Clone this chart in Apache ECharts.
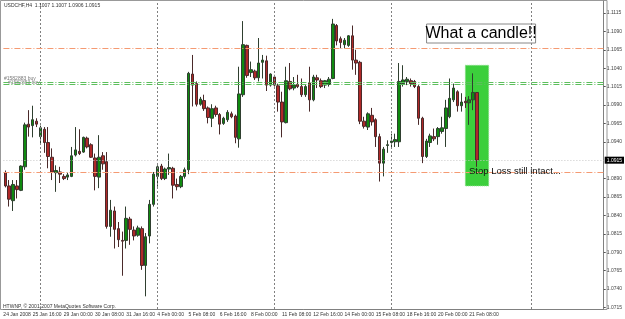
<!DOCTYPE html>
<html>

<head>
	<meta charset="utf-8">
	<title>USDCHF,H4</title>
	<script src="https://cdn.jsdelivr.net/npm/echarts@6/dist/echarts.min.js"></script>
</head>

<body style="margin:0;background:#fff">
	<div id="main" style="width:625px;height:319px;"></div>

	<script type="text/javascript">
		// H4 bars from 24 Jan 2008 12:00, [open, close, low, high]
		var candles = [
			[1.0898, 1.0880, 1.0878, 1.0901], [1.0880, 1.0862, 1.0852, 1.0888], [1.0860, 1.0882, 1.0846, 1.0888],
			[1.0880, 1.0875, 1.0863, 1.0888], [1.0874, 1.0907, 1.0873, 1.0908], [1.0906, 1.0963, 1.0902, 1.0966],
			[1.0964, 1.0960, 1.0947, 1.0983], [1.0962, 1.0970, 1.0946, 1.0989], [1.0968, 1.0964, 1.0960, 1.0972],
			[1.0947, 1.0959, 1.0937, 1.0962], [1.0957, 1.0939, 1.0925, 1.0960], [1.0939, 1.0920, 1.0904, 1.0960],
			[1.0919, 1.0899, 1.0888, 1.0931], [1.0898, 1.0901, 1.0872, 1.0908], [1.0899, 1.0896, 1.0884, 1.0906],
			[1.0893, 1.0890, 1.0888, 1.0896], [1.0892, 1.0895, 1.0888, 1.0898], [1.0893, 1.0921, 1.0892, 1.0933],
			[1.0922, 1.0929, 1.0920, 1.0960], [1.0927, 1.0924, 1.0922, 1.0957], [1.0926, 1.0946, 1.0925, 1.0947],
			[1.0945, 1.0933, 1.0931, 1.0947], [1.0936, 1.0919, 1.0918, 1.0938], [1.0918, 1.0893, 1.0874, 1.0924],
			[1.0892, 1.0919, 1.0877, 1.0949], [1.0921, 1.0910, 1.0902, 1.0926], [1.0913, 1.0825, 1.0822, 1.0926],
			[1.0825, 1.0847, 1.0811, 1.0861], [1.0846, 1.0821, 1.0795, 1.0852], [1.0822, 1.0807, 1.0797, 1.0831],
			[1.0806, 1.0805, 1.0758, 1.0818], [1.0806, 1.0836, 1.0795, 1.0852], [1.0835, 1.0821, 1.0800, 1.0838],
			[1.0820, 1.0812, 1.0806, 1.0825], [1.0813, 1.0823, 1.0811, 1.0826], [1.0822, 1.0772, 1.0766, 1.0825],
			[1.0772, 1.0811, 1.0730, 1.0816], [1.0812, 1.0855, 1.0802, 1.0861], [1.0855, 1.0896, 1.0852, 1.0899],
			[1.0893, 1.0906, 1.0879, 1.0908], [1.0907, 1.0890, 1.0888, 1.0910], [1.0890, 1.0903, 1.0888, 1.0905],
			[1.0903, 1.0905, 1.0895, 1.0924], [1.0904, 1.0881, 1.0863, 1.0906], [1.0882, 1.0879, 1.0874, 1.0890],
			[1.0879, 1.0893, 1.0877, 1.0895], [1.0893, 1.0902, 1.0890, 1.0905], [1.0902, 1.1033, 1.0896, 1.1035],
			[1.1032, 1.1017, 1.0988, 1.1058], [1.1019, 1.0991, 1.0988, 1.1022], [1.0991, 1.0998, 1.0989, 1.1001],
			[1.0996, 1.0985, 1.0982, 1.1004], [1.0986, 1.0973, 1.0965, 1.0988], [1.0972, 1.0985, 1.0960, 1.0991],
			[1.0986, 1.0977, 1.0974, 1.0989], [1.0977, 1.0964, 1.0950, 1.0979], [1.0965, 1.0972, 1.0963, 1.0974],
			[1.0970, 1.0980, 1.0967, 1.0983], [1.0978, 1.0974, 1.0972, 1.0981], [1.0975, 1.0946, 1.0938, 1.0977],
			[1.0944, 1.1005, 1.0932, 1.1042], [1.1004, 1.1072, 1.1001, 1.1104], [1.1071, 1.1030, 1.1027, 1.1072],
			[1.1034, 1.1038, 1.1028, 1.1049], [1.1036, 1.1027, 1.1024, 1.1038], [1.1027, 1.1047, 1.1022, 1.1081],
			[1.1048, 1.1051, 1.1026, 1.1058], [1.1050, 1.1017, 1.1009, 1.1057], [1.1017, 1.1032, 1.1015, 1.1033],
			[1.1028, 1.1017, 1.1015, 1.1031], [1.1016, 1.0994, 1.0981, 1.1019], [1.0994, 1.0967, 1.0946, 1.1008],
			[1.0966, 1.1023, 1.0965, 1.1042], [1.1022, 1.1012, 1.1010, 1.1047], [1.1013, 1.1017, 1.1010, 1.1028],
			[1.1018, 1.1015, 1.1013, 1.1031], [1.1015, 1.1004, 1.1001, 1.1026], [1.1004, 1.1015, 1.1001, 1.1017],
			[1.1020, 1.0997, 1.0981, 1.1042], [1.0997, 1.1028, 1.0995, 1.1031], [1.1027, 1.1024, 1.1013, 1.1031],
			[1.1023, 1.1015, 1.1013, 1.1026], [1.1017, 1.1023, 1.1013, 1.1024], [1.1018, 1.1025, 1.1015, 1.1028],
			[1.1026, 1.1100, 1.1025, 1.1107], [1.1098, 1.1077, 1.1071, 1.1100], [1.1080, 1.1075, 1.1067, 1.1083],
			[1.1072, 1.1078, 1.1067, 1.1081], [1.1071, 1.1084, 1.1069, 1.1085], [1.1084, 1.1051, 1.1038, 1.1098],
			[1.1051, 1.1047, 1.1031, 1.1065], [1.1048, 1.0968, 1.0964, 1.1050], [1.0968, 1.0961, 1.0958, 1.0974],
			[1.0960, 1.0978, 1.0956, 1.0980], [1.0976, 1.0967, 1.0962, 1.0986], [1.0970, 1.0947, 1.0933, 1.0972],
			[1.0947, 1.0911, 1.0886, 1.0951], [1.0911, 1.0930, 1.0893, 1.0933], [1.0935, 1.0936, 1.0925, 1.0942],
			[1.0939, 1.0941, 1.0932, 1.0951], [1.0940, 1.0943, 1.0933, 1.0951], [1.0940, 1.1022, 1.0933, 1.1047],
			[1.1019, 1.1024, 1.1015, 1.1044], [1.1022, 1.1025, 1.1017, 1.1028], [1.1023, 1.1019, 1.1015, 1.1026],
			[1.1022, 1.1015, 1.1013, 1.1024], [1.1015, 1.0972, 1.0963, 1.1017], [1.0972, 1.0920, 1.0911, 1.0974],
			[1.0920, 1.0941, 1.0918, 1.0944], [1.0939, 1.0948, 1.0933, 1.0951], [1.0947, 1.0944, 1.0941, 1.0958],
			[1.0947, 1.0958, 1.0936, 1.0960], [1.0954, 1.0959, 1.0951, 1.0974], [1.0958, 1.0986, 1.0933, 1.0997],
			[1.0974, 1.0999, 1.0972, 1.1026], [1.0997, 1.1013, 1.0994, 1.1019], [1.1008, 1.0989, 1.0981, 1.1010],
			[1.0989, 1.0994, 1.0981, 1.1006], [1.0995, 1.0993, 1.0986, 1.1001], [1.0993, 1.0997, 1.0963, 1.1002],
			[1.0997, 1.1007, 1.0983, 1.1033], [1.1007, 1.0915, 1.0906, 1.1007]
		];

		// time axis: bar slots incl. empty space on the right
		var slotCount = 154;
		var timeLabelIndex = [0, 7, 15, 23, 31, 39, 47, 55, 63, 71, 79, 87, 95, 103, 111, 119];
		var timeLabels = ['24 Jan 2008', '25 Jan 16:00', '29 Jan 00:00', '30 Jan 08:00', '31 Jan 16:00',
			'4 Feb 00:00', '5 Feb 08:00', '6 Feb 16:00', '8 Feb 00:00', '11 Feb 08:00', '12 Feb 16:00',
			'14 Feb 00:00', '15 Feb 08:00', '18 Feb 16:00', '20 Feb 00:00', '21 Feb 08:00'];
		var separatorIndex = [9, 39, 69, 99, 135];

		// price scale
		var priceMin = 1.07128, priceMax = 1.11313;
		var priceTicks = [1.0715, 1.0740, 1.0765, 1.0790, 1.0815, 1.0840, 1.0865, 1.0890,
			1.0940, 1.0965, 1.0990, 1.1015, 1.1040, 1.1065, 1.1090, 1.1115];
		var bidPrice = 1.0915;
		var orangeLevels = [1.1067, 1.0898];
		var greenLevels = [1.1021, 1.1018];
		var boxRange = { from: 118, to: 124, top: 1.1044, bottom: 1.0880 };

		var slots = [];
		for (var i = 0; i < slotCount; i++) slots.push(String(i));

		var font = 'Liberation Sans, Arial, sans-serif';
		var myChart = echarts.init(document.getElementById('main'));

		// helper: empty line series that only carries a markLine
		function levelSeries(name, items, style, z) {
			return {
				name: name,
				type: 'line',
				data: [],
				z: z,
				markLine: {
					silent: true,
					precision: 5,
					symbol: ['none', 'none'],
					label: { show: false },
					lineStyle: style,
					data: items
				}
			};
		}

		// first date label sits on its own axis so it does not knock out its neighbour
		var isTimeLabel = function (index) { return index > 0 && timeLabelIndex.indexOf(index) >= 0; };
		var isFirstLabel = function (index) { return index === 0; };
		var labelText = function (v, idx) { return timeLabels[timeLabelIndex.indexOf(idx)]; };

		option = {
			animation: false,
			backgroundColor: '#fff',
			grid: { left: 3.4, right: 18, top: 1, bottom: 10 },
			xAxis: [{
				type: 'category',
				data: slots,
				boundaryGap: true,
				axisLine: { lineStyle: { color: '#808080' } },
				axisTick: { interval: isTimeLabel, alignWithLabel: true, length: 5, lineStyle: { color: '#555' } },
				axisLabel: {
					interval: isTimeLabel,
					align: 'left',
					margin: 3,
					fontSize: 5,
					fontFamily: font,
					color: '#333',
					formatter: labelText
				},
				splitLine: { show: false }
			}, {
				type: 'category',
				data: slots,
				position: 'bottom',
				boundaryGap: true,
				axisLine: { show: false },
				axisTick: { show: false },
				axisLabel: {
					interval: isFirstLabel,
					showMinLabel: true,
					align: 'left',
					margin: 3,
					fontSize: 5,
					fontFamily: font,
					color: '#333',
					padding: [0, 0, 0, -2],
					formatter: labelText
				},
				splitLine: { show: false }
			}],
			yAxis: {
				type: 'value',
				position: 'right',
				min: priceMin,
				max: priceMax,
				axisLine: { show: true, lineStyle: { color: '#808080' } },
				axisTick: { show: true, customValues: priceTicks, length: 2, lineStyle: { color: '#555' } },
				axisLabel: {
					customValues: priceTicks,
					margin: 3,
					fontSize: 5,
					fontFamily: font,
					color: '#444',
					formatter: function (v) { return v.toFixed(4); }
				},
				splitLine: { show: false }
			},
			series: [{
				name: 'box',
				type: 'line',
				data: [],
				z: 1,
				markArea: {
					silent: true,
					precision: 5,
					itemStyle: { color: '#3ccf3c', borderColor: '#8fe08f', borderWidth: 1, borderType: 'dotted' },
					data: [[{ xAxis: boxRange.from, yAxis: boxRange.top }, { xAxis: boxRange.to, yAxis: boxRange.bottom }]]
				}
			},
			levelSeries('separators', separatorIndex.map(function (v) { return { xAxis: v }; }),
				{ color: '#808080', type: [2, 2], width: 1 }, 2),
			levelSeries('stops', orangeLevels.map(function (v) { return { yAxis: v }; }),
				{ color: '#f59a72', type: [6, 2, 1, 2], width: 1 }, 2),
			levelSeries('orders', greenLevels.map(function (v) { return { yAxis: v }; }),
				{ color: '#5cbf5c', type: [6, 2, 1, 2], width: 1 }, 2),
			{
				name: 'bid',
				type: 'line',
				data: [],
				z: 2,
				markLine: {
					silent: true,
					precision: 5,
					symbol: ['none', 'none'],
					lineStyle: { color: '#c8c8c8', type: [1, 2], width: 1 },
					label: {
						show: true, position: 'end', distance: 1,
						formatter: function () { return bidPrice.toFixed(4); },
						backgroundColor: '#000', color: '#fff', fontSize: 5, fontFamily: font, padding: [1, 2]
					},
					data: [{ yAxis: bidPrice }]
				}
			}, {
				name: 'USDCHF,H4',
				type: 'candlestick',
				data: candles,
				z: 3,
				barWidth: 3,
				itemStyle: {
					color: '#0f8a0f',
					color0: '#b02828',
					borderColor: '#2f3f2f',
					borderColor0: '#4a2a2a',
					borderWidth: 1
				}
			}],
			graphic: [{
				type: 'rect', silent: true, z: 0,
				shape: { x: 0.5, y: 0.5, width: 606.5, height: 309 },
				style: { fill: 'none', stroke: '#999', lineWidth: 1 }
			}, {
				type: 'text', left: 4, top: 3, z: 10,
				style: { text: 'USDCHF,H4  1.1007 1.1007 1.0906 1.0915', fontSize: 5, fontFamily: font, fill: '#333' }
			}, {
				type: 'text', left: 4, top: 76, z: 10,
				style: { text: '#1582883 buy', fontSize: 5, fontFamily: font, fill: '#777' }
			}, {
				type: 'text', left: 8, top: 80, z: 10,
				style: { text: '#1582853 buy', fontSize: 5, fontFamily: font, fill: '#888' }
			}, {
				type: 'text', left: 3, top: 304, z: 10,
				style: { text: 'HTWNP, \u00a9 2001-2007 MetaQuotes Software Corp.', fontSize: 5, fontFamily: font, fill: '#333' }
			}, {
				type: 'group', left: 425.5, top: 23.5, z: 10,
				children: [{
					type: 'rect',
					shape: { x: 0, y: 0, width: 109, height: 19 },
					style: { fill: '#fff', stroke: '#888', lineWidth: 1 }
				}, {
					type: 'text', x: 54.5, y: 10,
					style: { text: 'What a candle!!', fontSize: 16, fontFamily: font, fill: '#000', align: 'center', verticalAlign: 'middle' }
				}]
			}, {
				type: 'text', left: 469, top: 166, z: 10,
				style: { text: 'Stop Loss still intact...', fontSize: 9.5, fontFamily: font, fill: '#111' }
			}]
		};

		myChart.setOption(option);
	</script>
</body>

</html>
